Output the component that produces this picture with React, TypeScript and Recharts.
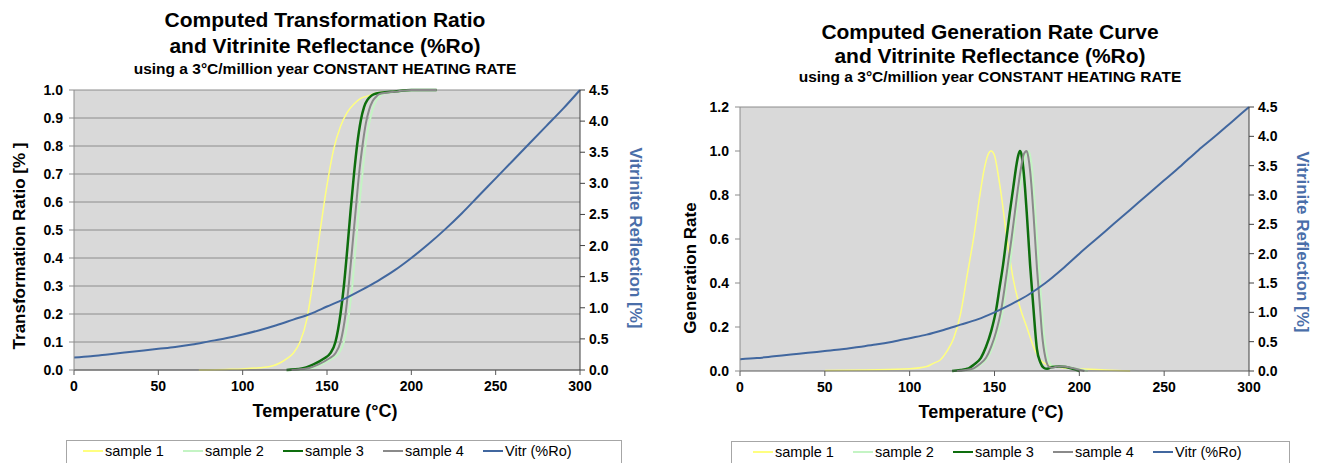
import { LineChart, Line, XAxis, YAxis, CartesianGrid, ReferenceLine } from 'recharts';

const FONT = "'Liberation Sans', Arial, sans-serif";

// axis ticks
const tempTicks = [0, 50, 100, 150, 200, 250, 300];
const trTicks = [0, 0.1, 0.2, 0.3, 0.4, 0.5, 0.6, 0.7, 0.8, 0.9, 1.0];
const grTicks = [0, 0.2, 0.4, 0.6, 0.8, 1.0, 1.2];
const roTicks = [0, 0.5, 1.0, 1.5, 2.0, 2.5, 3.0, 3.5, 4.0, 4.5];

const seriesNames = ['sample 1', 'sample 2', 'sample 3', 'sample 4', 'Vitr (%Ro)'];
const seriesColors = ['#ffff80', '#c4f4c4', '#0e6e0e', '#8a8a8a', '#41679f'];
const seriesWidths = [1.5, 2, 2.5, 2, 2];

// transformation ratio (left chart)
const trS1Temp = [74, 90, 100, 110, 118, 122, 126, 130, 134, 138, 142, 146, 150, 154, 158, 162, 166, 170, 175, 180, 190, 200, 215];
const trS1 = [0, 0.002, 0.004, 0.008, 0.015, 0.025, 0.04, 0.06, 0.1, 0.18, 0.33, 0.5, 0.66, 0.79, 0.87, 0.92, 0.95, 0.97, 0.98, 0.99, 0.995, 1.0, 1.0];
const trS2Temp = [131, 140, 147, 153, 157, 160, 163, 165, 167, 169, 171, 173, 175, 177, 179, 181, 183, 187, 194, 202, 215];
const trS2 = [0, 0.005, 0.02, 0.04, 0.06, 0.1, 0.2, 0.3, 0.44, 0.58, 0.7, 0.81, 0.88, 0.93, 0.96, 0.975, 0.985, 0.99, 0.995, 1.0, 1.0];
const trS3Temp = [126, 135, 142, 148, 152, 155, 158, 160, 162, 164, 166, 168, 170, 172, 174, 176, 178, 182, 190, 200, 215];
const trS3 = [0, 0.005, 0.02, 0.04, 0.06, 0.1, 0.2, 0.3, 0.43, 0.57, 0.7, 0.81, 0.89, 0.94, 0.965, 0.978, 0.985, 0.99, 0.995, 1.0, 1.0];
const trS4Temp = [129, 138, 145, 151, 155, 158, 161, 163, 165, 167, 169, 171, 173, 175, 177, 179, 181, 185, 192, 200, 215];
const trS4 = [0, 0.005, 0.02, 0.04, 0.06, 0.1, 0.2, 0.31, 0.44, 0.57, 0.7, 0.8, 0.88, 0.93, 0.96, 0.975, 0.985, 0.99, 0.995, 1.0, 1.0];

// generation rate (right chart)
const grS1Temp = [50, 75, 100, 110, 114, 118, 122, 126, 130, 134, 138, 141, 144, 146, 148, 150, 152, 154, 157, 161, 165, 169, 173, 177, 181, 190, 200, 215, 230];
const grS1 = [0.002, 0.005, 0.01, 0.02, 0.035, 0.05, 0.09, 0.15, 0.26, 0.44, 0.62, 0.78, 0.92, 0.98, 1.0, 0.98, 0.9, 0.8, 0.62, 0.42, 0.29, 0.2, 0.11, 0.05, 0.03, 0.015, 0.01, 0.005, 0];
const grS2Temp = [129, 134, 138, 142, 146, 149, 152, 155, 157, 159, 161, 163, 165, 167, 168, 169, 170, 171, 172, 173, 174, 175, 176, 177, 178, 179, 181, 183, 185, 188, 192, 196, 200, 205];
const grS2 = [0, 0.005, 0.01, 0.03, 0.06, 0.11, 0.18, 0.28, 0.38, 0.48, 0.6, 0.72, 0.83, 0.93, 0.97, 0.99, 1.0, 0.98, 0.93, 0.84, 0.73, 0.61, 0.49, 0.38, 0.27, 0.18, 0.07, 0.03, 0.02, 0.022, 0.02, 0.015, 0.008, 0];
const grS3Temp = [125, 130, 134, 138, 142, 145, 148, 151, 153, 155, 157, 159, 161, 163, 164, 165, 166, 167, 168, 169, 170, 171, 172, 173, 174, 175, 177, 179, 181, 184, 188, 192, 196, 200];
const grS3 = [0, 0.005, 0.01, 0.03, 0.06, 0.11, 0.18, 0.28, 0.38, 0.48, 0.6, 0.72, 0.83, 0.94, 0.98, 1.0, 0.98, 0.92, 0.83, 0.72, 0.6, 0.48, 0.38, 0.28, 0.18, 0.1, 0.04, 0.015, 0.01, 0.018, 0.02, 0.018, 0.01, 0];
const grS4Temp = [128, 133, 137, 141, 145, 148, 151, 154, 156, 158, 160, 162, 164, 166, 167, 168, 169, 170, 171, 172, 173, 174, 175, 176, 177, 178, 180, 182, 184, 187, 191, 195, 199, 203];
const grS4 = [0, 0.005, 0.01, 0.03, 0.06, 0.11, 0.18, 0.28, 0.38, 0.49, 0.6, 0.72, 0.84, 0.94, 0.98, 0.995, 1.0, 0.97, 0.91, 0.82, 0.71, 0.59, 0.47, 0.37, 0.27, 0.17, 0.06, 0.02, 0.015, 0.02, 0.02, 0.015, 0.008, 0];

// vitrinite reflectance
const vitrTemp = [0, 10, 20, 30, 40, 50, 60, 70, 80, 90, 100, 110, 120, 130, 140, 150, 160, 170, 180, 190, 200, 210, 220, 230, 240, 250, 260, 270, 280, 290, 300];
const vitrLeft = [0.2, 0.22, 0.25, 0.28, 0.31, 0.34, 0.37, 0.41, 0.46, 0.51, 0.57, 0.64, 0.72, 0.81, 0.9, 1.02, 1.14, 1.28, 1.43, 1.6, 1.8, 2.02, 2.26, 2.52, 2.8, 3.08, 3.36, 3.64, 3.92, 4.2, 4.5];
const vitrRight = [0.2, 0.22, 0.25, 0.28, 0.31, 0.34, 0.37, 0.41, 0.45, 0.5, 0.56, 0.62, 0.7, 0.79, 0.88, 1.0, 1.14, 1.3, 1.5, 1.74, 2.0, 2.25, 2.5, 2.75, 3.0, 3.25, 3.5, 3.76, 4.0, 4.25, 4.5];

const pts = (t: number[], v: number[]) => t.map((x, i) => ({ t: x, v: v[i] }));

const leftSeries = [pts(trS1Temp, trS1), pts(trS2Temp, trS2), pts(trS3Temp, trS3), pts(trS4Temp, trS4), pts(vitrTemp, vitrLeft)];
const rightSeries = [pts(grS1Temp, grS1), pts(grS2Temp, grS2), pts(grS3Temp, grS3), pts(grS4Temp, grS4), pts(vitrTemp, vitrRight)];

const tick = { fill: '#000', fontSize: 14, fontWeight: 700, fontFamily: FONT };
const fmt = (v: number) => v.toFixed(1);

// recharts clones the label element and passes x/y/angle itself, so use other prop names
function AxisTitle({ tx, ty, rot = 0, text, color = '#000', size = 17 }: any) {
  return (
    <text transform={`translate(${tx},${ty}) rotate(${rot})`} textAnchor="middle" dominantBaseline="central"
      fill={color} fontSize={size} fontWeight={700} fontFamily={FONT}>
      {text}
    </text>
  );
}

function Title({ left, tops, lines }: { left: number; tops: number[]; lines: [string, number][] }) {
  return (
    <>
      {lines.map(([s, size], i) => (
        <div key={i} style={{ position: 'absolute', left, top: tops[i], width: 660, textAlign: 'center', fontWeight: 700, fontSize: size, lineHeight: '24px' }}>{s}</div>
      ))}
    </>
  );
}

function LegendBox({ left, top, width, pad }: { left: number; top: number; width: number; pad: number }) {
  return (
    <div style={{ position: 'absolute', left, top, width, height: 40, border: '1px solid #a6a6a6', boxSizing: 'border-box',
      display: 'flex', alignItems: 'flex-start', paddingTop: 2, paddingLeft: pad, fontSize: 14.5 }}>
      {seriesNames.map((n, i) => (
        <div key={n} style={{ display: 'flex', alignItems: 'center', width: i < 4 ? 100 : undefined }}>
          <span style={{ display: 'inline-block', width: 20, height: 2.5, background: seriesColors[i], marginRight: 2 }} />
          <span>{n}</span>
        </div>
      ))}
    </div>
  );
}

export default function App() {
  return (
    <div style={{ position: 'absolute', left: 0, top: 0, width: 1321, height: 463, background: '#fff', overflow: 'hidden', fontFamily: FONT }}>
      <div style={{ position: 'absolute', left: 0, top: 0 }}>
        <LineChart width={660} height={463} margin={{ top: 90, right: 0, bottom: 63, left: 0 }}>
          <CartesianGrid yAxisId="tr" vertical={false} fill="#d9d9d9" stroke="#8c8c8c" fillOpacity={1} />
          <XAxis dataKey="t" type="number" domain={[0, 300]} ticks={tempTicks} height={30} tickSize={5} tickMargin={6}
            tick={tick} stroke="#595959" label={<AxisTitle tx={325} ty={411} size={18} text="Temperature (°C)" />} />
          <YAxis yAxisId="tr" orientation="left" width={74} domain={[0, 1]} ticks={trTicks} tickFormatter={fmt}
            tick={tick} tickSize={5} tickMargin={6} stroke="#8c8c8c" interval={0}
            label={<AxisTitle tx={19} ty={246} rot={-90} text="Transformation Ratio [% ]" />} />
          <YAxis yAxisId="ro" orientation="right" width={80} domain={[0, 4.5]} ticks={roTicks} tickFormatter={fmt}
            tick={tick} tickSize={5} tickMargin={4} stroke="#404040" interval={0}
            label={<AxisTitle tx={635} ty={238} rot={90} color="#4a6ea9" text="Vitrinite Reflection [%]" />} />
          {leftSeries.map((d, i) => (
            <Line key={seriesNames[i]} data={d} dataKey="v" name={seriesNames[i]} yAxisId={i === 4 ? 'ro' : 'tr'}
              type="monotone" stroke={seriesColors[i]} strokeWidth={seriesWidths[i]} dot={false} isAnimationActive={false} />
          ))}
        </LineChart>
      </div>
      <div style={{ position: 'absolute', left: 660, top: 0 }}>
        <LineChart width={661} height={463} margin={{ top: 107, right: 0, bottom: 62, left: 0 }}>
          <CartesianGrid yAxisId="gr" vertical={false} horizontal={false} fill="#d9d9d9" fillOpacity={1} />
          <ReferenceLine yAxisId="gr" y={1.2} stroke="#8c8c8c" />
          <XAxis dataKey="t" type="number" domain={[0, 300]} ticks={tempTicks} height={30} tickSize={5} tickMargin={6}
            tick={tick} stroke="#595959" label={<AxisTitle tx={331} ty={412} size={18} text="Temperature (°C)" />} />
          <YAxis yAxisId="gr" orientation="left" width={80} domain={[0, 1.2]} ticks={grTicks} tickFormatter={fmt}
            tick={tick} tickSize={5} tickMargin={6} stroke="#8c8c8c" interval={0}
            label={<AxisTitle tx={30} ty={268} rot={-90} text="Generation Rate" />} />
          <YAxis yAxisId="ro" orientation="right" width={72} domain={[0, 4.5]} ticks={roTicks} tickFormatter={fmt}
            tick={tick} tickSize={5} tickMargin={4} stroke="#404040" interval={0}
            label={<AxisTitle tx={642} ty={242} rot={90} color="#4a6ea9" text="Vitrinite Reflection [%]" />} />
          {rightSeries.map((d, i) => (
            <Line key={seriesNames[i]} data={d} dataKey="v" name={seriesNames[i]} yAxisId={i === 4 ? 'ro' : 'gr'}
              type="monotone" stroke={seriesColors[i]} strokeWidth={seriesWidths[i]} dot={false} isAnimationActive={false} />
          ))}
        </LineChart>
      </div>
      <Title left={-5} tops={[8, 34, 57]} lines={[['Computed Transformation Ratio', 21], ['and Vitrinite Reflectance (%Ro)', 21], ['using a 3°C/million year CONSTANT HEATING RATE', 15.5]]} />
      <Title left={660} tops={[20, 44, 65]} lines={[['Computed Generation Rate Curve', 21], ['and Vitrinite Reflectance (%Ro)', 21], ['using a 3°C/million year CONSTANT HEATING RATE', 15.5]]} />
      <LegendBox left={66} top={440} width={556} pad={16} />
      <LegendBox left={731} top={441} width={559} pad={21} />
    </div>
  );
}
